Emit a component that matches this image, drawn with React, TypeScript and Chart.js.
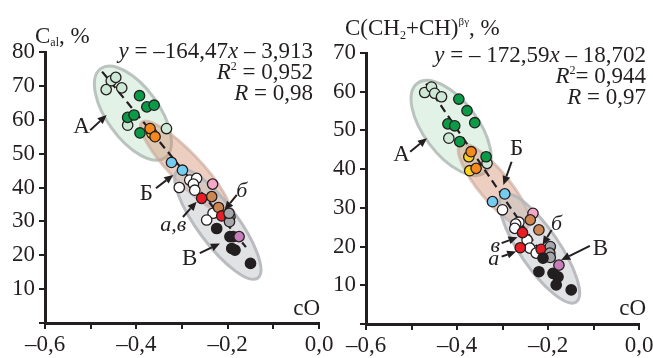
import React, { useEffect, useRef } from 'react';
import { Chart, registerables } from 'chart.js';

Chart.register(...registerables);

const FONT = "'Liberation Serif', 'Times New Roman', serif";
const INK = '#231f20';

type Pt = [number, number];

// ---------------- Left panel: C_al, % vs cO ----------------
const leftPaleGreen: Pt[] = [[-0.455, 71.5], [-0.445, 72.5], [-0.466, 68.9], [-0.432, 69.4], [-0.419, 58.4], [-0.334, 57.4]];
const leftGreen: Pt[] = [[-0.393, 67.1], [-0.377, 63.8], [-0.361, 64.3], [-0.419, 60.7], [-0.405, 61.4], [-0.392, 56.1]];
const leftYellow: Pt[] = [[-0.366, 56.0]];
const leftOrange: Pt[] = [[-0.370, 57.4], [-0.359, 55.0]];
const leftBlue: Pt[] = [[-0.323, 47.4], [-0.299, 45.1]];
const leftWhite: Pt[] = [[-0.306, 40.0], [-0.283, 42.2], [-0.268, 42.7], [-0.275, 41.0], [-0.272, 39.2], [-0.232, 32.4], [-0.246, 30.4]];
const leftPink: Pt[] = [[-0.233, 41.0]];
const leftTan: Pt[] = [[-0.235, 37.3], [-0.220, 34.1]];
const leftRed: Pt[] = [[-0.257, 36.8], [-0.213, 31.6]];
const leftGrey: Pt[] = [[-0.195, 31.4], [-0.196, 29.9], [-0.197, 32.4]];
const leftBlack: Pt[] = [[-0.224, 27.9], [-0.195, 25.5], [-0.188, 25.5], [-0.184, 21.5], [-0.191, 22.0], [-0.150, 17.6]];
const leftPurple: Pt[] = [[-0.175, 25.5]];

const leftSlope = -164.47;
const leftIntercept = -3.913;
const leftFitX: number[] = [-0.475, -0.16];

// ---------------- Right panel: C(CH2+CH)βγ, % vs cO ----------------
const rightPaleGreen: Pt[] = [[-0.471, 59.8], [-0.456, 61.2], [-0.449, 59.6], [-0.434, 58.7], [-0.418, 48.0], [-0.334, 41.5]];
const rightGreen: Pt[] = [[-0.396, 58.1], [-0.378, 55.1], [-0.361, 52.0], [-0.420, 51.7], [-0.405, 51.2], [-0.394, 47.1], [-0.336, 43.2]];
const rightYellow: Pt[] = [[-0.374, 43.2], [-0.372, 39.6]];
const rightOrange: Pt[] = [[-0.369, 44.5], [-0.358, 40.2]];
const rightBlue: Pt[] = [[-0.295, 33.6], [-0.322, 31.6]];
const rightWhite: Pt[] = [[-0.300, 29.5], [-0.264, 26.3], [-0.271, 25.8], [-0.273, 24.7], [-0.246, 21.7], [-0.240, 19.6], [-0.226, 18.3]];
const rightPink: Pt[] = [[-0.233, 28.6]];
const rightTan: Pt[] = [[-0.239, 26.9], [-0.220, 24.3]];
const rightRed: Pt[] = [[-0.256, 23.6], [-0.261, 19.7], [-0.215, 19.3]];
const rightGrey: Pt[] = [[-0.195, 20.0], [-0.196, 18.3], [-0.195, 17.2]];
const rightBlack: Pt[] = [[-0.211, 17.0], [-0.220, 13.5], [-0.189, 13.1], [-0.178, 12.2], [-0.182, 10.1], [-0.149, 8.8]];
const rightPurple: Pt[] = [[-0.176, 15.2]];

const rightSlope = -172.59;
const rightIntercept = -18.702;
const rightFitX: number[] = [-0.468, -0.2];

// ---------------- Axis ticks ----------------
const xMin = -0.6;
const xMax = 0;
const xStep = 0.1;
const leftYMax = 80;
const rightYMax = 70;
const yStep = 10;

// ---------------- Annotations (data coordinates) ----------------
type Zone = { from: Pt; to: Pt; half: number; kind: 'A' | 'B' | 'V' };
const leftZones: Zone[] = [
  { from: [-0.478, 75.1], to: [-0.337, 48.8], half: 26, kind: 'A' },
  { from: [-0.388, 59.3], to: [-0.199, 32.7], half: 15, kind: 'B' },
  { from: [-0.309, 45.1], to: [-0.134, 13.3], half: 20, kind: 'V' },
];
const rightZones: Zone[] = [
  { from: [-0.487, 62.2], to: [-0.339, 39.1], half: 27, kind: 'A' },
  { from: [-0.393, 46.3], to: [-0.244, 25.1], half: 15, kind: 'B' },
  { from: [-0.299, 33.3], to: [-0.138, 5.7], half: 19.5, kind: 'V' },
];

type Arrow = { from: Pt; to: Pt };
const leftArrows: Arrow[] = [
  { from: [-0.501, 56.9], to: [-0.465, 61.4] },
  { from: [-0.357, 39.8], to: [-0.319, 43.7] },
  { from: [-0.298, 31.3], to: [-0.268, 35.8] },
  { from: [-0.180, 37.8], to: [-0.207, 33.3] },
  { from: [-0.261, 20.6], to: [-0.217, 23.5] },
];
const rightArrows: Arrow[] = [
  { from: [-0.503, 44.5], to: [-0.466, 48.0] },
  { from: [-0.280, 41.9], to: [-0.298, 35.9] },
  { from: [-0.302, 20.9], to: [-0.267, 22.4] },
  { from: [-0.302, 17.4], to: [-0.270, 18.7] },
  { from: [-0.192, 24.3], to: [-0.212, 20.4] },
  { from: [-0.108, 20.2], to: [-0.171, 16.5] },
];

type Label = { text: string; at: Pt; italic?: boolean };
const leftLabels: Label[] = [
  { text: 'А', at: [-0.520, 58.0] },
  { text: 'Б', at: [-0.378, 38.2] },
  { text: 'а,в', at: [-0.319, 28.9], italic: true },
  { text: 'б', at: [-0.169, 38.9], italic: true },
  { text: 'В', at: [-0.283, 18.9] },
];
const rightLabels: Label[] = [
  { text: 'А', at: [-0.522, 43.7] },
  { text: 'Б', at: [-0.269, 45.2] },
  { text: 'в', at: [-0.316, 20.0], italic: true },
  { text: 'а', at: [-0.319, 16.8], italic: true },
  { text: 'б', at: [-0.181, 25.8], italic: true },
  { text: 'В', at: [-0.085, 19.5] },
];

// ---------------- Styles ----------------
const COLORS: Record<string, string> = {
  paleGreen: '#cde8d5',
  green: '#0b9b48',
  yellow: '#ffd21f',
  orange: '#f5891f',
  blue: '#74cdf0',
  white: '#ffffff',
  pink: '#f4a7c9',
  tan: '#cc8652',
  red: '#ec1c24',
  grey: '#a5a7aa',
  black: '#231f20',
  purple: '#c77dba',
};
const ZONE_FILL: Record<string, string> = {
  A: 'rgba(208,234,215,0.6)',
  B: 'rgba(212,140,108,0.42)',
  V: 'rgba(188,190,195,0.45)',
};
const ZONE_EDGE: Record<string, string> = {
  A: 'rgba(180,190,185,0.9)',
  B: 'rgba(200,165,150,0.6)',
  V: 'rgba(180,182,186,0.9)',
};

type Seg = { t: string; it?: boolean; sz?: number; dy?: number };

const leftTitle: Seg[] = [{ t: 'C' }, { t: 'al', sz: 12, dy: 3 }, { t: ', %' }];
const rightTitle: Seg[] = [
  { t: 'C(CH' },
  { t: '2', sz: 12, dy: 4 },
  { t: '+CH)' },
  { t: 'βγ', sz: 11, dy: -10 },
  { t: ', %' },
];
const leftEquation: Seg[][] = [
  [{ t: 'y', it: true }, { t: ' = –164,47' }, { t: 'x', it: true }, { t: ' – 3,913' }],
  [{ t: 'R', it: true }, { t: '2', sz: 12, dy: -9 }, { t: ' = 0,952' }],
  [{ t: 'R', it: true }, { t: ' = 0,98' }],
];
const rightEquation: Seg[][] = [
  [{ t: 'y', it: true }, { t: ' = – 172,59' }, { t: 'x', it: true }, { t: ' – 18,702' }],
  [{ t: 'R', it: true }, { t: '2', sz: 12, dy: -9 }, { t: '= 0,944' }],
  [{ t: 'R', it: true }, { t: ' = 0,97' }],
];

type Panel = {
  padding: { top: number; left: number; right: number; bottom: number };
  yWidth: number;
  xHeight: number;
  yMax: number;
  groups: [string, Pt[]][];
  slope: number;
  intercept: number;
  fitX: number[];
  zones: Zone[];
  arrows: Arrow[];
  labels: Label[];
  title: Seg[];
  titlePos: [number, number];
  equation: Seg[][];
  eqPos: [number, number];
  eqGap: number;
  xLabelPos: [number, number];
};

const PANELS: Panel[] = [
  {
    padding: { top: 52, left: 0, right: 334, bottom: 0 },
    yWidth: 45,
    xHeight: 35,
    yMax: leftYMax,
    groups: [
      ['paleGreen', leftPaleGreen], ['green', leftGreen], ['yellow', leftYellow], ['orange', leftOrange],
      ['blue', leftBlue], ['white', leftWhite], ['pink', leftPink], ['tan', leftTan], ['red', leftRed],
      ['grey', leftGrey], ['black', leftBlack], ['purple', leftPurple],
    ],
    slope: leftSlope,
    intercept: leftIntercept,
    fitX: leftFitX,
    zones: leftZones,
    arrows: leftArrows,
    labels: leftLabels,
    title: leftTitle,
    titlePos: [35, 43],
    equation: leftEquation,
    eqPos: [313, 58],
    eqGap: 21,
    xLabelPos: [320, 315],
  },
  {
    padding: { top: 53, left: 321, right: 14, bottom: 0 },
    yWidth: 45,
    xHeight: 34,
    yMax: rightYMax,
    groups: [
      ['paleGreen', rightPaleGreen], ['green', rightGreen], ['yellow', rightYellow], ['orange', rightOrange],
      ['blue', rightBlue], ['white', rightWhite], ['pink', rightPink], ['tan', rightTan], ['red', rightRed],
      ['grey', rightGrey], ['black', rightBlack], ['purple', rightPurple],
    ],
    slope: rightSlope,
    intercept: rightIntercept,
    fitX: rightFitX,
    zones: rightZones,
    arrows: rightArrows,
    labels: rightLabels,
    title: rightTitle,
    titlePos: [345, 35],
    equation: rightEquation,
    eqPos: [646, 62],
    eqGap: 21,
    xLabelPos: [646, 315],
  },
];

function segFont(s: Seg) {
  return `${s.it ? 'italic ' : ''}${s.sz ?? 23}px ${FONT}`;
}

function drawRich(ctx: CanvasRenderingContext2D, segs: Seg[], x: number, y: number, align: 'left' | 'right') {
  ctx.save();
  ctx.fillStyle = INK;
  ctx.textBaseline = 'alphabetic';
  ctx.textAlign = 'left';
  const widths = segs.map((s) => {
    ctx.font = segFont(s);
    return ctx.measureText(s.t).width;
  });
  const total = widths.reduce((a, b) => a + b, 0);
  let cx = align === 'right' ? x - total : x;
  segs.forEach((s, i) => {
    ctx.font = segFont(s);
    ctx.fillText(s.t, cx, y + (s.dy ?? 0));
    cx += widths[i];
  });
  ctx.restore();
}

function makeDecor(p: Panel) {
  return {
    id: 'decor',
    beforeDatasetsDraw(chart: any) {
      const { ctx } = chart;
      const xs = chart.scales.x;
      const ys = chart.scales.y;
      ctx.save();
      p.zones.forEach((z) => {
        const x1 = xs.getPixelForValue(z.from[0]);
        const y1 = ys.getPixelForValue(z.from[1]);
        const x2 = xs.getPixelForValue(z.to[0]);
        const y2 = ys.getPixelForValue(z.to[1]);
        const cx = (x1 + x2) / 2;
        const cy = (y1 + y2) / 2;
        const a = Math.hypot(x2 - x1, y2 - y1) / 2;
        const ang = Math.atan2(y2 - y1, x2 - x1);
        ctx.beginPath();
        ctx.ellipse(cx, cy, a, z.half, ang, 0, Math.PI * 2);
        ctx.fillStyle = ZONE_FILL[z.kind];
        ctx.fill();
        ctx.lineWidth = 3;
        ctx.strokeStyle = ZONE_EDGE[z.kind];
        ctx.stroke();
      });
      ctx.restore();
    },
    afterDatasetsDraw(chart: any) {
      const { ctx } = chart;
      const xs = chart.scales.x;
      const ys = chart.scales.y;
      ctx.save();
      ctx.strokeStyle = INK;
      ctx.fillStyle = INK;
      ctx.lineWidth = 2;
      p.arrows.forEach((ar) => {
        const x1 = xs.getPixelForValue(ar.from[0]);
        const y1 = ys.getPixelForValue(ar.from[1]);
        const x2 = xs.getPixelForValue(ar.to[0]);
        const y2 = ys.getPixelForValue(ar.to[1]);
        const ang = Math.atan2(y2 - y1, x2 - x1);
        const hl = 9;
        const hw = 4;
        const bx = x2 - hl * Math.cos(ang);
        const by = y2 - hl * Math.sin(ang);
        ctx.beginPath();
        ctx.moveTo(x1, y1);
        ctx.lineTo(bx, by);
        ctx.stroke();
        ctx.beginPath();
        ctx.moveTo(x2, y2);
        ctx.lineTo(bx + hw * Math.sin(ang), by - hw * Math.cos(ang));
        ctx.lineTo(bx - hw * Math.sin(ang), by + hw * Math.cos(ang));
        ctx.closePath();
        ctx.fill();
      });
      ctx.textAlign = 'center';
      ctx.textBaseline = 'middle';
      p.labels.forEach((l) => {
        ctx.font = l.italic ? `italic 22px ${FONT}` : `23px ${FONT}`;
        ctx.fillText(l.text, xs.getPixelForValue(l.at[0]), ys.getPixelForValue(l.at[1]));
      });
      ctx.restore();
      drawRich(ctx, p.title, p.titlePos[0], p.titlePos[1], 'left');
      p.equation.forEach((line, i) => drawRich(ctx, line, p.eqPos[0], p.eqPos[1] + i * p.eqGap, 'right'));
      drawRich(ctx, [{ t: 'cO' }], p.xLabelPos[0], p.xLabelPos[1], 'right');
    },
  };
}

function fmtX(v: number) {
  const k = Math.round(v * 10);
  if (k % 2 !== 0) return '';
  const s = Math.abs(k / 10).toFixed(1).replace('.', ',');
  return k < 0 ? '\u2013' + s : s;
}

function buildConfig(p: Panel): any {
  const fitData = p.fitX.map((x) => ({ x, y: p.slope * x + p.intercept }));
  const n = p.groups.length;
  const datasets: any[] = [
    {
      data: fitData,
      showLine: true,
      borderColor: INK,
      borderWidth: 2.2,
      borderDash: [8, 5],
      pointRadius: 0,
      order: 1000,
    },
    ...p.groups.map(([key, pts], i) => ({
      data: pts.map(([x, y]) => ({ x, y })),
      pointRadius: 5.2,
      pointHoverRadius: 5.2,
      pointBorderWidth: 1.3,
      pointBackgroundColor: COLORS[key],
      pointBorderColor: INK,
      showLine: false,
      order: n - i,
    })),
  ];
  return {
    type: 'scatter',
    data: { datasets },
    options: {
      animation: false,
      responsive: false,
      devicePixelRatio: 1,
      events: [],
      layout: { padding: p.padding },
      plugins: { legend: { display: false }, tooltip: { enabled: false } },
      scales: {
        x: {
          type: 'linear',
          position: 'bottom',
          min: xMin,
          max: xMax,
          afterFit: (s: any) => {
            s.height = p.xHeight;
            s.paddingLeft = 0;
            s.paddingRight = 0;
            s.paddingTop = 0;
            s.paddingBottom = 0;
          },
          ticks: {
            stepSize: xStep,
            autoSkip: false,
            maxRotation: 0,
            minRotation: 0,
            padding: 2,
            color: INK,
            font: { family: FONT, size: 23 },
            callback: (v: any) => fmtX(Number(v)),
          },
          grid: { drawOnChartArea: false, drawTicks: true, tickLength: 6, color: INK, lineWidth: 2 },
          border: { display: true, color: INK, width: 3 },
        },
        y: {
          type: 'linear',
          position: 'left',
          min: 0,
          max: p.yMax,
          afterFit: (s: any) => {
            s.width = p.yWidth;
            s.paddingLeft = 0;
            s.paddingRight = 0;
            s.paddingTop = 0;
            s.paddingBottom = 0;
          },
          ticks: {
            stepSize: yStep,
            padding: 4,
            color: INK,
            font: { family: FONT, size: 23 },
            callback: (v: any) => (Number(v) === 0 ? '' : String(v)),
          },
          grid: { drawOnChartArea: false, drawTicks: true, tickLength: 6, color: INK, lineWidth: 2 },
          border: { display: true, color: INK, width: 3 },
        },
      },
    },
    plugins: [makeDecor(p)],
  };
}

export default function App() {
  const leftRef = useRef<HTMLCanvasElement>(null);
  const rightRef = useRef<HTMLCanvasElement>(null);
  useEffect(() => {
    const charts = [
      new Chart(leftRef.current as HTMLCanvasElement, buildConfig(PANELS[0])),
      new Chart(rightRef.current as HTMLCanvasElement, buildConfig(PANELS[1])),
    ];
    return () => charts.forEach((c) => c.destroy());
  }, []);
  return (
    <div style={{ position: 'absolute', left: 0, top: 0, width: 653, height: 358, background: '#fff' }}>
      <canvas ref={leftRef} width={653} height={358} style={{ position: 'absolute', left: 0, top: 0 }} />
      <canvas ref={rightRef} width={653} height={358} style={{ position: 'absolute', left: 0, top: 0 }} />
    </div>
  );
}
